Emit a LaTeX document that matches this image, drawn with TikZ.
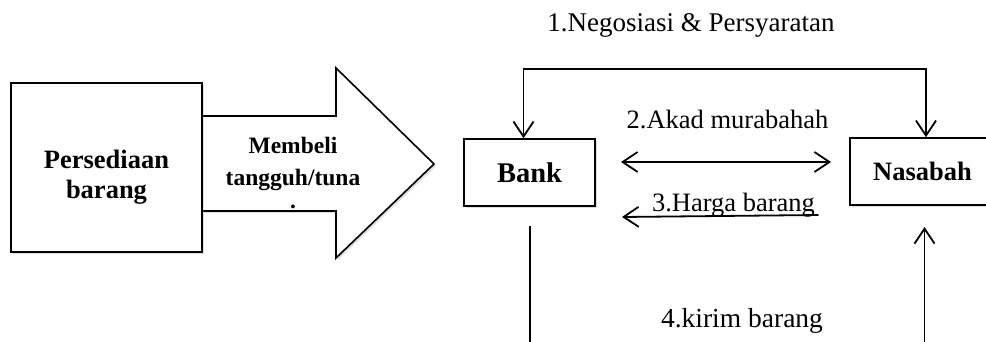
\documentclass[tikz,border=0pt]{standalone}
\usepackage{fontspec}
\setmainfont{Liberation Serif}
\usetikzlibrary{arrows.meta,calc,shadows}
\tikzset{
	shade box/.style={drop shadow={shadow xshift=2pt,shadow yshift=-2pt,opacity=0.25}},
	box/.style={draw,line width=1.6pt,fill=white,shade box,inner sep=0pt},
	bold txt/.style={font=\fontsize{26.5}{30}\selectfont\bfseries},
	lbl/.style={font=\fontsize{26.5}{30}\selectfont},
	conn/.style={line width=1.8pt,line cap=round},
	barb/.tip={Straight Barb[length=15pt,width=20pt,line width=1.8pt]},
	tip/.style={-barb}
}
\begin{document}
\begin{tikzpicture}[x=1pt,y=-1pt]
			\useasboundingbox (0,0) rectangle (986,342);
			\fill[white] (0,0) rectangle (986,342);
			\pgfmathsetmacro{\sy}{116}
			\pgfmathsetmacro{\sb}{211}
			\pgfmathsetmacro{\hx}{336}
			\filldraw[fill=white,line width=1.6pt,line join=miter,shade box] (202,\sy) -- (\hx,\sy) -- (\hx,68) -- (434,164) -- (\hx,258) -- (\hx,\sb) -- (202,\sb) -- cycle;
			\node[align=center,font=\fontsize{23.5}{32}\selectfont\bfseries] (buy) at (293,173) {Membeli\\tangguh/tuna\\[-9pt].};
			\node[box,minimum width=191pt,minimum height=169pt] (store) at (106.5,167.5) {};
			\node[bold txt,align=center] (storetxt) at ($(store.center)+(0,10)$) {Persediaan\\barang};
			\node[box,bold txt,font=\fontsize{28.5}{30}\selectfont\bfseries,minimum width=131pt,minimum height=67pt] (bank) at (529.5,172.5) {Bank};
			\node[box,bold txt,minimum width=145pt,minimum height=67pt] (nasabah) at (922.5,171.5) {Nasabah};
			\coordinate (top) at (523,69);
			\coordinate (bankin) at ($(bank.north)+(-6,0)$);
			\coordinate (nasin) at ($(nasabah.north)+(3.5,0)$);
			\draw[conn,line cap=butt,barb-barb] (bankin) -- (bankin |- top) -- (nasin |- top) -- (nasin);
			\node[lbl,font=\fontsize{27}{30}\selectfont] (nego) at (691,25) {1.Negosiasi \& Persyaratan};
			\node[lbl] (akad) at (727.5,119) {2.Akad murabahah};
			\coordinate (akadL) at (621,162);
			\coordinate (akadR) at (831,162);
			\draw[conn,barb-barb] (akadL) -- (akadR);
			\node[lbl] (harga) at (733.5,205) {3.Harga barang};
			\coordinate (hargaR) at (818,215);
			\coordinate (hargaL) at (622,217);
			\draw[conn,tip] (hargaR) -- (hargaL);
			\coordinate (bankdown) at (530,226);
			\draw[line width=1.4pt] (bankdown) -- (bankdown |- 0,342);
			\coordinate (nasup) at (924.5,227);
			\draw[conn,tip] (nasup |- 0,342) -- (nasup);
			\node[lbl,font=\fontsize{27.5}{30}\selectfont] (kirim) at (742,321) {4.kirim barang};
\end{tikzpicture}
\end{document}
